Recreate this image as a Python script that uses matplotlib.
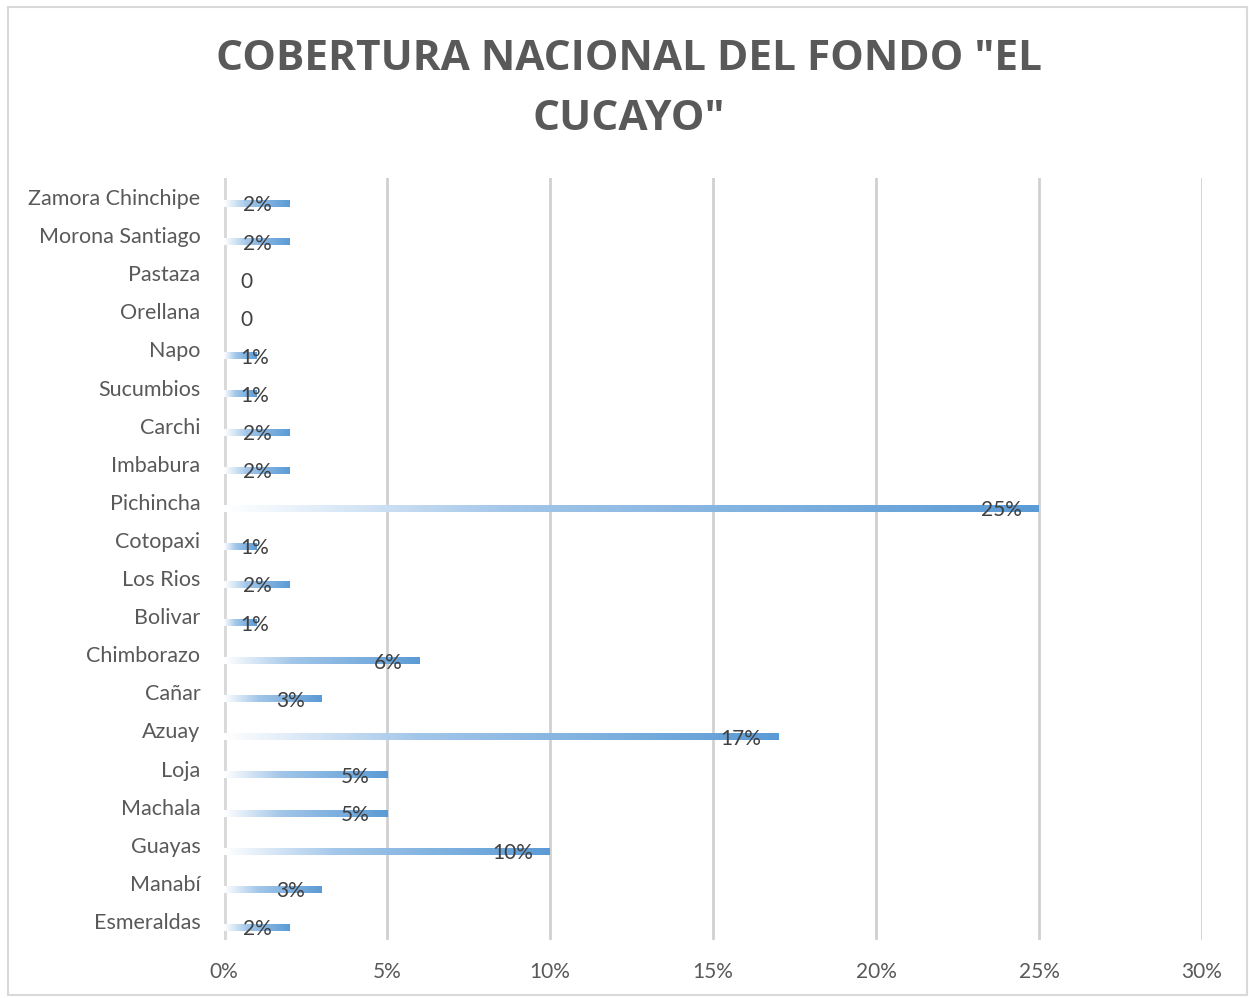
import numpy as np
import matplotlib
matplotlib.use("Agg")
import matplotlib.pyplot as plt
from matplotlib.colors import LinearSegmentedColormap
from matplotlib.patches import Rectangle

# data, bottom to top as in the sheet
provincias = ["Esmeraldas", "Manabí", "Guayas", "Machala", "Loja", "Azuay",
              "Cañar", "Chimborazo", "Bolivar", "Los Rios", "Cotopaxi",
              "Pichincha", "Imbabura", "Carchi", "Sucumbios", "Napo",
              "Orellana", "Pastaza", "Morona Santiago", "Zamora Chinchipe"]
cobertura = [2, 3, 10, 5, 5, 17, 3, 6, 1, 2, 1, 25, 2, 2, 1, 1, 0, 0, 2, 2]
x_ticks = [0, 5, 10, 15, 20, 25, 30]

TEXT = "#595959"
LABEL = "#404040"
GRID = "#d0d0d0"
FONT = ["Lato", "DejaVu Sans"]

fig = plt.figure(figsize=(12.49, 9.98), dpi=100)
fig.patches.append(Rectangle((8 / 1249, 1 - 995 / 998), 1239 / 1249, 988 / 998,
                             transform=fig.transFigure, fill=False,
                             edgecolor="#d9d9d9", linewidth=1.5))

ax = fig.add_axes([224 / 1249, 1 - 940 / 998, 978 / 1249, 762 / 998])

fig.text(629 / 1249, 1 - 59 / 998, 'COBERTURA NACIONAL DEL FONDO "EL',
         ha="center", va="center", fontsize=30.5, fontweight="bold",
         color=TEXT, family=["Open Sans", "DejaVu Sans"])
fig.text(629 / 1249, 1 - 119 / 998, 'CUCAYO"',
         ha="center", va="center", fontsize=30.5, fontweight="bold",
         color=TEXT, family=["Open Sans", "DejaVu Sans"])

y = np.arange(len(provincias))
offset = -0.18
bars = ax.barh(y + offset, cobertura, height=0.16, color="none", edgecolor="none")

cmap = LinearSegmentedColormap.from_list(
    "grad", [(0, "#ffffff"), (0.35, "#a2c6e9"), (1, "#5b9bd5")])
grad = np.linspace(0, 1, 256).reshape(1, -1)
for b in bars:
    if b.get_width() <= 0:
        continue
    ax.imshow(grad, cmap=cmap, aspect="auto", interpolation="bilinear",
              extent=[b.get_x(), b.get_x() + b.get_width(),
                      b.get_y(), b.get_y() + b.get_height()], zorder=2)

ax.set_xlim(0, 30)
ax.set_ylim(-0.5, len(provincias) - 0.5)
ax.set_xticks(x_ticks)
ax.set_xticklabels([f"{t}%" for t in x_ticks])
ax.set_yticks(y)
ax.set_yticklabels(provincias)
ax.tick_params(axis="y", length=0, labelsize=15.5, colors=TEXT, pad=17)
ax.tick_params(axis="x", length=0, labelsize=15, colors=TEXT, pad=16)
for lab in ax.get_xticklabels() + ax.get_yticklabels():
    lab.set_family(FONT)

for s in ax.spines.values():
    s.set_visible(False)
ax.grid(axis="x", color=GRID, linewidth=2, zorder=0)
ax.axvline(0, color="#d9d9d9", linewidth=3.5, zorder=1)
ax.set_axisbelow(True)

# data labels: inside end, pushed right if they'd hit the axis
fig.canvas.draw()
renderer = fig.canvas.get_renderer()
px = 5 / 163.0
for b, v in zip(bars, cobertura):
    yc = b.get_y() + b.get_height() / 2
    txt = "0" if v == 0 else f"{v}%"
    t = ax.text(v - 17 * px, yc - 0.04, txt, ha="right", va="center",
                fontsize=15, color=LABEL, family=FONT, zorder=3)
    ext = t.get_window_extent(renderer)
    x0 = ax.transData.transform((0, 0))[0]
    if ext.x0 < x0 + 16:
        t.set_ha("left")
        t.set_x(16 * px)

fig.savefig("out.png", dpi=100)
